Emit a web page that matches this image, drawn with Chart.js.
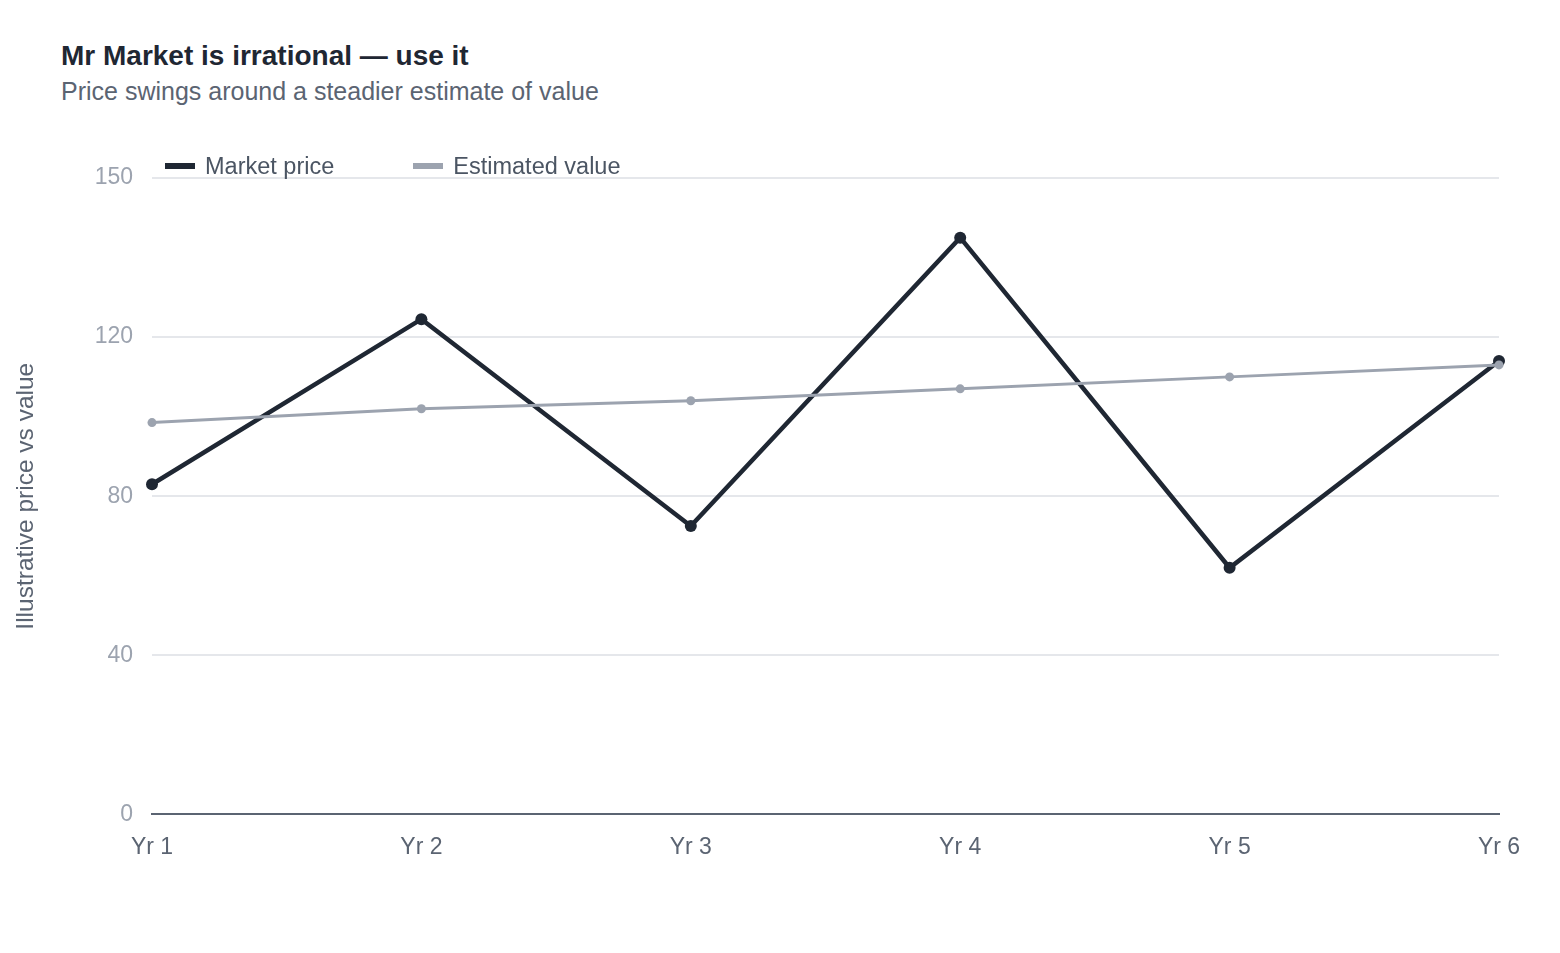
<!DOCTYPE html>
<html>
<head>
<meta charset="utf-8">
<title>Mr Market is irrational</title>
<script src="https://cdn.jsdelivr.net/npm/chart.js@4"></script>
<style>
  html, body { margin: 0; padding: 0; background: #ffffff; }
  body { width: 1560px; height: 953px; position: relative; overflow: hidden;
         font-family: "Liberation Sans", Arial, Helvetica, sans-serif; }
  #head { position: absolute; left: 61px; top: 39px; }
  #head h1 { margin: 0; font-size: 28px; line-height: 34px; font-weight: bold; color: #1f2733; }
  #head p { margin: 3px 0 0 0; font-size: 25px; line-height: 30px; color: #5b6472; }
  #legend { position: absolute; left: 165px; top: 152px; display: flex; gap: 79px;
            font-size: 23.5px; line-height: 28px; color: #4b5563; }
  .item { display: flex; align-items: center; }
  .box { width: 30px; height: 6px; margin-right: 10px; }
  #wrap { position: absolute; left: 0; top: 0; width: 1560px; height: 953px; }
</style>
</head>
<body>
<div id="head">
  <h1>Mr Market is irrational — use it</h1>
  <p>Price swings around a steadier estimate of value</p>
</div>
<div id="wrap"><canvas id="mrMarketChart"></canvas></div>
<div id="legend"></div>
<script>
const years = ["Yr 1", "Yr 2", "Yr 3", "Yr 4", "Yr 5", "Yr 6"];
const marketPrice = [83, 124.5, 72.5, 145, 62, 114];
const estimatedValue = [98.5, 102, 104, 107, 110, 113];
const yTickValues = [0, 40, 80, 120, 160];
const yTickLabels = ["0", "40", "80", "120", "150"];

const ctx = document.getElementById("mrMarketChart").getContext("2d");

const datasets = [
  {
    label: "Market price",
    data: marketPrice,
    borderColor: "#1f2733",
    backgroundColor: "#1f2733",
    borderWidth: 4.5,
    pointRadius: 6,
    pointBackgroundColor: "#1f2733",
    pointBorderWidth: 0,
    tension: 0,
    clip: false,
    order: 2,
  },
  {
    label: "Estimated value",
    data: estimatedValue,
    borderColor: "#9ca3af",
    backgroundColor: "#9ca3af",
    borderWidth: 3,
    pointRadius: 4.5,
    pointBackgroundColor: "#9ca3af",
    pointBorderWidth: 0,
    tension: 0,
    clip: false,
    order: 1,
  },
];

// simple html legend, market price first
const legendEl = document.getElementById("legend");
datasets.forEach(function (ds) {
  const item = document.createElement("div");
  item.className = "item";
  item.innerHTML = '<span class="box" style="background:' + ds.borderColor + '"></span>' + ds.label;
  legendEl.appendChild(item);
});

const chart = new Chart(ctx, {
  type: "line",
  data: { labels: years, datasets: datasets },
  options: {
    responsive: true,
    maintainAspectRatio: false,
    animation: false,
    layout: { padding: { left: 8, top: 178, right: 61, bottom: 73 } },
    plugins: {
      legend: { display: false },
      tooltip: { enabled: false },
    },
    scales: {
      x: {
        grid: { display: false, drawTicks: false },
        border: { display: true, color: "#5b6472", width: 2 },
        ticks: {
          padding: 19,
          color: "#5b6472",
          font: { family: "Liberation Sans", size: 23 },
        },
      },
      y: {
        min: 0,
        max: 160,
        afterBuildTicks: function (scale) {
          scale.ticks = yTickValues.map(function (v) { return { value: v }; });
        },
        afterFit: function (scale) {
          scale.width = 144;
        },
        grid: { color: "#e5e7eb", lineWidth: 2, drawTicks: false },
        border: { display: false },
        ticks: {
          padding: 19,
          color: "#9ca3af",
          font: { family: "Liberation Sans", size: 23 },
          callback: function (value, index) {
            return yTickLabels[index];
          },
        },
        title: {
          display: true,
          text: "Illustrative price vs value",
          color: "#5b6472",
          font: { family: "Liberation Sans", size: 24.5 },
        },
      },
    },
  },
});
</script>
</body>
</html>
